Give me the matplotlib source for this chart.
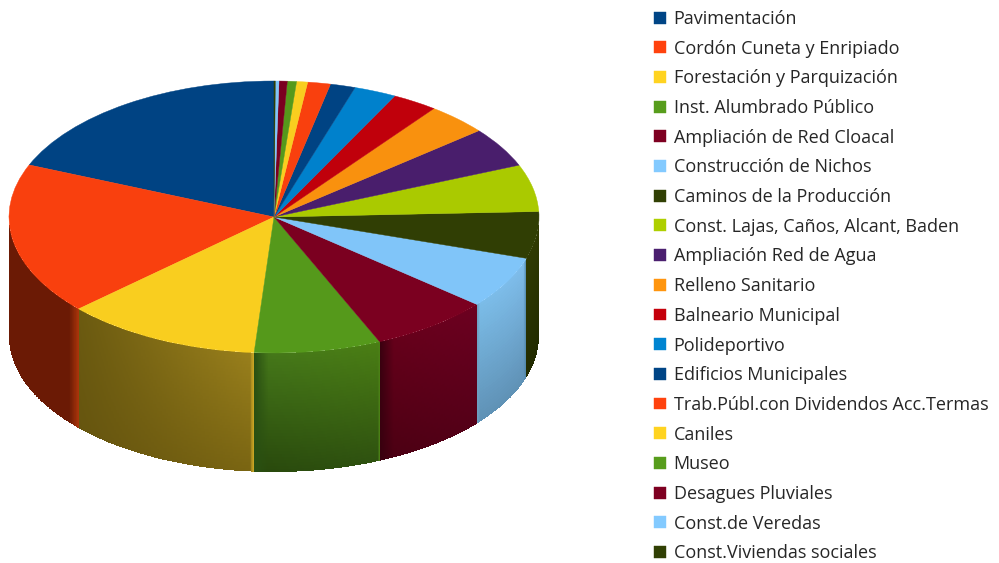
import numpy as np
import matplotlib
matplotlib.use('Agg')
from matplotlib import pyplot as plt
from matplotlib.colors import to_rgb

labels = ['Pavimentación', 'Cordón Cuneta y Enripiado', 'Forestación y Parquización',
          'Inst. Alumbrado Público', 'Ampliación de Red Cloacal', 'Construcción de Nichos',
          'Caminos de la Producción', 'Const. Lajas, Caños, Alcant, Baden',
          'Ampliación Red de Agua', 'Relleno Sanitario', 'Balneario Municipal',
          'Polideportivo', 'Edificios Municipales', 'Trab.Públ.con Dividendos Acc.Termas',
          'Caniles', 'Museo', 'Desagues Pluviales', 'Const.de Veredas',
          'Const.Viviendas sociales']
values = [18.75, 18.06, 12.0, 7.72, 7.36, 6.2, 5.56, 5.58, 4.72, 3.75,
          2.78, 2.58, 1.53, 1.39, 0.67, 0.56, 0.50, 0.22, 0.08]
colors = ['#004586', '#ff420e', '#ffd320', '#579d1c', '#7e0021', '#83caff', '#314004',
          '#aecf00', '#4b1f6f', '#ff950e', '#c5000b', '#0084d1', '#004586', '#ff420e',
          '#ffd320', '#579d1c', '#7e0021', '#83caff', '#314004']

# pie geometry in pixels
cx, cy, rx, ry, depth = 274, 217, 265, 136, 119

# side wall shading per slice: top left, top right, bottom left, bottom right,
# then left edge colour + width in px, right edge colour + width in px
walls = {
    1: ('#6b1a05', '#6b1a05', '#6b1a05', '#6b1a05', None, 0, '#a8340a', 9),
    2: ('#6b5a10', '#9a801c', '#66550f', '#7a6512', None, 0, '#c8a424', 4),
    3: ('#44761a', '#4a7e14', '#28480c', '#2f5210', '#2a5012', 14, '#4a8016', 2),
    4: ('#640019', '#6c0020', '#4a0012', '#550018', '#38000f', 14, None, 0),
    5: ('#7bbde8', '#7fbdeb', '#5f91b5', '#5f91b5', '#6f9fc0', 3, '#4f85a8', 3),
    6: ('#2f3a02', '#2f3a02', '#222b00', '#222b00', None, 0, None, 0),
}

fig = plt.figure(figsize=(9.99, 5.63), dpi=100)
ax = fig.add_axes([0, 0, 1, 1])

wedges, _ = ax.pie(values, colors=colors, startangle=90, counterclock=True, radius=1,
                   wedgeprops={'linewidth': 0.3, 'zorder': 5})
for wd, c in zip(wedges, colors):
    wd.set_edgecolor(c)
ax.set_aspect('auto')
ax.set_xlim((0 - cx) / rx, (999 - cx) / rx)
ax.set_ylim((cy - 563) / ry, cy / ry)
ax.axis('off')

edges = 90 + np.cumsum([0] + values) * 3.6
d = depth / ry
for i, w in walls.items():
    a0 = max(edges[i], 180)
    a1 = min(edges[i + 1], 360)
    ang = np.radians(np.linspace(a0, a1, 221))
    vv = np.linspace(0, 1, 41)
    X = np.tile(np.cos(ang), (41, 1))
    Y = np.outer(np.ones(41), np.sin(ang)) - np.outer(vv, np.ones(221)) * d
    # colours at the cell centres
    xc = (np.cos(ang[:-1]) + np.cos(ang[1:])) / 2 * rx
    u = (xc - xc[0]) / (xc[-1] - xc[0])
    v = (vv[:-1] + vv[1:]) / 2
    U, V = np.meshgrid(u, v)
    tl, tr, bl, br = [np.array(to_rgb(c)) for c in w[:4]]
    C = ((1 - U) * (1 - V))[..., None] * tl + (U * (1 - V))[..., None] * tr \
        + ((1 - U) * V)[..., None] * bl + (U * V)[..., None] * br
    if w[4]:
        k = np.clip(1 - (xc - xc[0]) / w[5], 0, 1)[None, :, None]
        C = C * (1 - k) + np.array(to_rgb(w[4])) * k
    if w[6]:
        k = np.clip(1 - (xc[-1] - xc) / w[7], 0, 1)[None, :, None]
        C = C * (1 - k) + np.array(to_rgb(w[6])) * k
    ax.pcolormesh(X, Y, C, shading='flat', linewidth=0, antialiased=False, zorder=2)

plt.rcParams['font.family'] = ['Open Sans', 'DejaVu Sans']
leg = ax.legend(wedges, labels, loc='upper left', bbox_to_anchor=(654 / 999, 1 - 10 / 563),
                bbox_transform=fig.transFigure, frameon=False, fontsize=13, borderpad=0,
                borderaxespad=0, handlelength=0.64, handleheight=0.64, handletextpad=0.44,
                labelspacing=0.647, labelcolor='#262626')

# top of the pie is a touch duller than the legend swatches
for wd, c in zip(wedges, colors):
    top = np.array(to_rgb(c)) * 0.975
    wd.set_facecolor(top)
    wd.set_edgecolor(top)

fig.savefig('out.png', dpi=100)
